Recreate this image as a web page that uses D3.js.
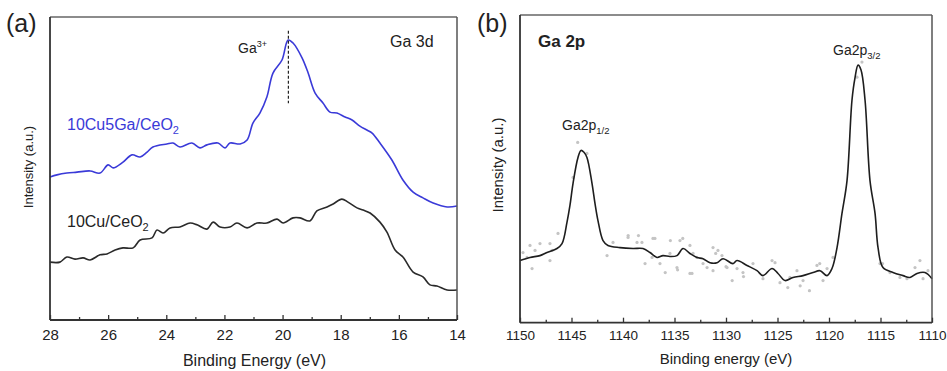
<!DOCTYPE html>
<html><head><meta charset="utf-8">
<script src="https://cdn.jsdelivr.net/npm/d3@7"></script>
<style>
html,body{margin:0;padding:0;background:#fff;}
svg text{font-family:Arial,"Liberation Sans",sans-serif;}
</style></head>
<body>
<svg id="chart" width="947" height="371"></svg>
<script>
// ---------- Panel (a): Ga 3d ----------
const aEnergy = [28.0,27.76,27.42,27.07,26.62,26.28,26.0,25.83,25.49,25.18,24.9,24.66,24.46,23.98,23.77,23.53,23.12,22.84,22.6,22.22,21.98,21.81,21.46,21.22,21.02,20.78,20.54,20.33,20.02,19.81,19.64,19.33,19.12,18.88,18.61,18.37,18.13,17.85,17.61,17.34,17.1,16.92,16.65,16.24,15.86,15.51,15.17,14.82,14.34,14.0];
const aCuGa = [47.2,47.9,48.5,48.8,49.2,48.5,51.2,50.2,52.1,54.5,53.8,55.4,57.1,58.1,58.4,57.1,58.4,56.8,57.8,58.4,56.8,58.4,58.1,59.4,65.0,68.3,73.6,81.5,85.8,92.4,91.4,86.5,81.5,74.9,71.6,68.6,68.3,67.0,66.0,64.0,62.7,61.7,58.4,52.8,46.2,42.2,40.3,38.6,37.3,37.6];
const aEnergyCu = [28.0,27.66,27.42,27.14,26.86,26.62,26.28,26.04,25.76,25.49,25.14,24.9,24.49,24.32,24.11,23.87,23.53,23.18,22.94,22.6,22.39,22.15,21.81,21.57,21.22,20.88,20.54,20.19,19.98,19.64,19.4,19.06,18.82,18.47,18.26,17.96,17.75,17.44,17.23,16.99,16.65,16.41,16.13,15.86,15.51,15.17,14.93,14.69,14.34,14.0];
const aCu = [19.1,19.1,20.8,20.1,20.5,19.8,21.5,21.8,23.1,23.8,23.8,26.4,27.1,29.7,28.7,30.4,30.7,32.0,31.4,30.0,32.3,30.7,30.7,32.0,30.4,32.0,32.0,33.3,32.0,33.7,33.7,32.7,36.0,37.3,38.3,39.9,38.9,37.0,36.3,35.3,32.3,29.0,23.1,20.8,15.8,14.2,11.6,11.2,9.9,9.9];
const aMajorTicks = [28,26,24,22,20,18,16,14];
const aMinorTicks = [27,25,23,21,19,17,15];
const aPeakEnergy = 19.8;

// ---------- Panel (b): Ga 2p ----------
const bEnergy = [1150,1149.03,1148.06,1147.38,1146.41,1145.92,1145.44,1145.15,1144.85,1144.37,1144.08,1143.79,1143.5,1143.01,1142.72,1142.43,1141.94,1141.46,1140.29,1139.03,1138.06,1137.38,1136.7,1136.12,1135.44,1134.76,1134.17,1133.5,1132.82,1132.23,1131.55,1130.87,1130.29,1129.32,1128.93,1127.96,1126.99,1126.41,1125.53,1124.95,1124.27,1123.5,1122.52,1121.55,1120.87,1120.19,1119.71,1119.22,1118.74,1118.25,1117.77,1117.48,1117.18,1116.89,1116.5,1116.02,1115.53,1115.24,1114.76,1113.79,1112.82,1112.14,1111.46,1110.68,1110.0];
const bFit = [20.2,21.2,21.8,22.8,24.1,25.7,32.6,38.1,45.3,53.7,56.0,55.4,53.7,45.3,38.8,33.2,26.7,25.1,24.4,24.1,24.1,22.8,21.2,21.8,21.5,21.8,24.1,22.5,21.2,20.8,19.5,19.5,20.8,19.2,20.2,18.6,16.9,15.3,17.6,16.0,13.7,14.7,15.3,16.3,16.9,15.3,17.6,24.4,35.5,46.2,72.3,79.5,83.7,82.1,72.3,46.2,35.5,24.4,17.9,16.3,15.3,14.7,16.0,16.3,14.3];
const bRawEnergy = [1149.71,1149.03,1148.54,1148.83,1148.06,1146.89,1147.09,1146.31,1149.32,1147.09,1144.85,1144.4,1143.5,1141.55,1140.97,1139.51,1138.64,1138.16,1137.86,1137.09,1137.18,1136.41,1135.44,1134.76,1134.47,1133.5,1133.5,1133.2,1132.82,1132.23,1131.84,1131.26,1131.26,1130.78,1130.39,1129.9,1128.93,1128.35,1127.38,1126.41,1125.53,1125.24,1124.76,1123.79,1123.11,1122.52,1121.17,1120.58,1120.19,1119.61,1117.28,1116.8,1115.05,1114.08,1113.11,1112.43,1111.65,1111.17,1110.87,1110.39,1139.5,1138.5,1136.9,1135.4,1134.2,1134.7,1135.9,1133.3,1131.0,1130.0,1128.3,1129.4,1124.0,1122.8,1121.9,1120.9,1114.8];
const bRaw = [22.8,25.1,23.5,17.6,25.7,23.5,20.2,29.0,21.2,25.7,47.2,58.6,55.0,21.8,26.1,27.7,26.1,26.1,19.2,27.4,21.2,19.2,22.5,17.9,26.7,25.1,16.0,22.5,21.2,19.2,17.9,24.4,16.9,23.5,21.8,17.9,17.6,16.3,19.2,14.3,20.2,19.5,13.0,14.7,16.9,13.7,18.6,13.7,17.6,21.2,79.8,84.7,19.2,16.3,14.7,14.3,17.9,20.2,14.3,16.9,28.3,28.3,27.4,26.7,27.4,17.2,16.3,16.0,22.5,18.2,15.0,13.7,11.4,12.0,10.4,19.2,19.2];
const bMajorTicks = [1150,1145,1140,1135,1130,1125,1120,1115,1110];
const bMinorTicks = [1147.5,1142.5,1137.5,1132.5,1127.5,1122.5,1117.5,1112.5];

const svg = d3.select("#chart");
const FONT = 'Arial,"Liberation Sans",sans-serif';

function frame(g, x0, x1, y0, y1) {
  g.append("line").attr("x1",x0).attr("x2",x1).attr("y1",y0).attr("y2",y0).attr("stroke","#666").attr("stroke-width",1.5);
  g.append("line").attr("x1",x1).attr("x2",x1).attr("y1",y0).attr("y2",y1).attr("stroke","#555").attr("stroke-width",1.5);
  g.append("line").attr("x1",x0).attr("x2",x0).attr("y1",y0).attr("y2",y1).attr("stroke","#333").attr("stroke-width",1.8);
  g.append("line").attr("x1",x0).attr("x2",x1).attr("y1",y1).attr("y2",y1).attr("stroke","#333").attr("stroke-width",1.8);
}

function bottomAxis(g, x, yPos, major, minor, fontSize, pad, fmt) {
  const ax = g.append("g").attr("transform",`translate(0,${yPos})`)
    .call(d3.axisBottom(x).tickValues(major).tickSize(-5).tickPadding(pad).tickFormat(fmt));
  ax.select(".domain").remove();
  ax.selectAll("line").attr("stroke","#333").attr("stroke-width",1.3);
  ax.selectAll("text").attr("font-size",fontSize).attr("fill","#222").style("font-family",FONT);
  const mi = g.append("g").attr("transform",`translate(0,${yPos})`)
    .call(d3.axisBottom(x).tickValues(minor).tickSize(-3).tickFormat(""));
  mi.select(".domain").remove();
  mi.selectAll("line").attr("stroke","#333").attr("stroke-width",1.3);
}

// ===== Panel (a) =====
const aL=50, aR=457, aT=17, aB=320;
const xa = d3.scaleLinear().domain([28,14]).range([aL,aR]);
const ya = d3.scaleLinear().domain([0,100]).range([aB,aT]);
const ga = svg.append("g");
const lineA = d3.line().x(d=>xa(d[0])).y(d=>ya(d[1])).curve(d3.curveCatmullRom.alpha(0.5));
ga.append("path").datum(aEnergy.map((e,i)=>[e,aCuGa[i]])).attr("d",lineA)
  .attr("fill","none").attr("stroke","#3a3ad8").attr("stroke-width",1.6);
ga.append("path").datum(aEnergyCu.map((e,i)=>[e,aCu[i]])).attr("d",lineA)
  .attr("fill","none").attr("stroke","#2a2a2a").attr("stroke-width",1.6);
ga.append("line").attr("x1",xa(aPeakEnergy)).attr("x2",xa(aPeakEnergy)).attr("y1",ya(95.5)).attr("y2",ya(71.5))
  .attr("stroke","#222").attr("stroke-width",1.2).attr("stroke-dasharray","3,2");
frame(ga, aL, aR, aT, aB);
bottomAxis(ga, xa, aB, aMajorTicks, aMinorTicks, 15, 9, d3.format("d"));
ga.append("text").attr("x",(aL+aR)/2+1).attr("y",366).attr("text-anchor","middle").attr("font-size",16).attr("fill","#222").text("Binding Energy (eV)");
ga.append("text").attr("transform","translate(33,167) rotate(-90)").attr("text-anchor","middle").attr("font-size",13).attr("fill","#222").text("Intensity (a.u.)");
ga.append("text").attr("x",6).attr("y",32).attr("font-size",25).attr("fill","#222").text("(a)");
const tA1 = ga.append("text").attr("x",67).attr("y",130).attr("font-size",16).attr("fill","#3a3ad8");
tA1.append("tspan").text("10Cu5Ga/CeO");
tA1.append("tspan").attr("font-size",11).attr("dy",4).text("2");
const tA2 = ga.append("text").attr("x",67).attr("y",227).attr("font-size",16).attr("fill","#222");
tA2.append("tspan").text("10Cu/CeO");
tA2.append("tspan").attr("font-size",11).attr("dy",4).text("2");
const tA3 = ga.append("text").attr("x",238).attr("y",53).attr("font-size",14).attr("fill","#222");
tA3.append("tspan").text("Ga");
tA3.append("tspan").attr("font-size",9).attr("dy",-6).text("3+");
ga.append("text").attr("x",390).attr("y",47).attr("font-size",16).attr("fill","#222").text("Ga 3d");

// ===== Panel (b) =====
const bL=520, bR=932, bT=15, bB=322.7;
const xb = d3.scaleLinear().domain([1150,1110]).range([bL,bR]);
const yb = d3.scaleLinear().domain([0,100]).range([bB,bT]);
const gb = svg.append("g");
gb.append("g").selectAll("circle").data(bRawEnergy.map((e,i)=>[e,bRaw[i]])).join("circle")
  .attr("cx",d=>xb(d[0])).attr("cy",d=>yb(d[1])).attr("r",1.6).attr("fill","#c4c4c4");
const lineB = d3.line().x(d=>xb(d[0])).y(d=>yb(d[1])).curve(d3.curveCatmullRom.alpha(0.5));
gb.append("path").datum(bEnergy.map((e,i)=>[e,bFit[i]])).attr("d",lineB)
  .attr("fill","none").attr("stroke","#1e1e1e").attr("stroke-width",1.6);
frame(gb, bL, bR, bT, bB);
bottomAxis(gb, xb, bB, bMajorTicks, bMinorTicks, 13.5, 7.5, d3.format("d"));
gb.append("text").attr("x",(bL+bR)/2).attr("y",364).attr("text-anchor","middle").attr("font-size",15).attr("fill","#222").text("Binding energy (eV)");
gb.append("text").attr("transform","translate(503,165) rotate(-90)").attr("text-anchor","middle").attr("font-size",15).attr("fill","#222").text("Intensity (a.u.)");
gb.append("text").attr("x",477).attr("y",32).attr("font-size",25).attr("fill","#222").text("(b)");
gb.append("text").attr("x",538).attr("y",47).attr("font-size",17).attr("font-weight","bold").attr("fill","#222").text("Ga 2p");
const tB1 = gb.append("text").attr("x",833).attr("y",55).attr("font-size",14).attr("fill","#222");
tB1.append("tspan").text("Ga2p");
tB1.append("tspan").attr("font-size",9.5).attr("dy",4).text("3/2");
const tB2 = gb.append("text").attr("x",562).attr("y",130).attr("font-size",14).attr("fill","#222");
tB2.append("tspan").text("Ga2p");
tB2.append("tspan").attr("font-size",9.5).attr("dy",4).text("1/2");
</script>
</body></html>
